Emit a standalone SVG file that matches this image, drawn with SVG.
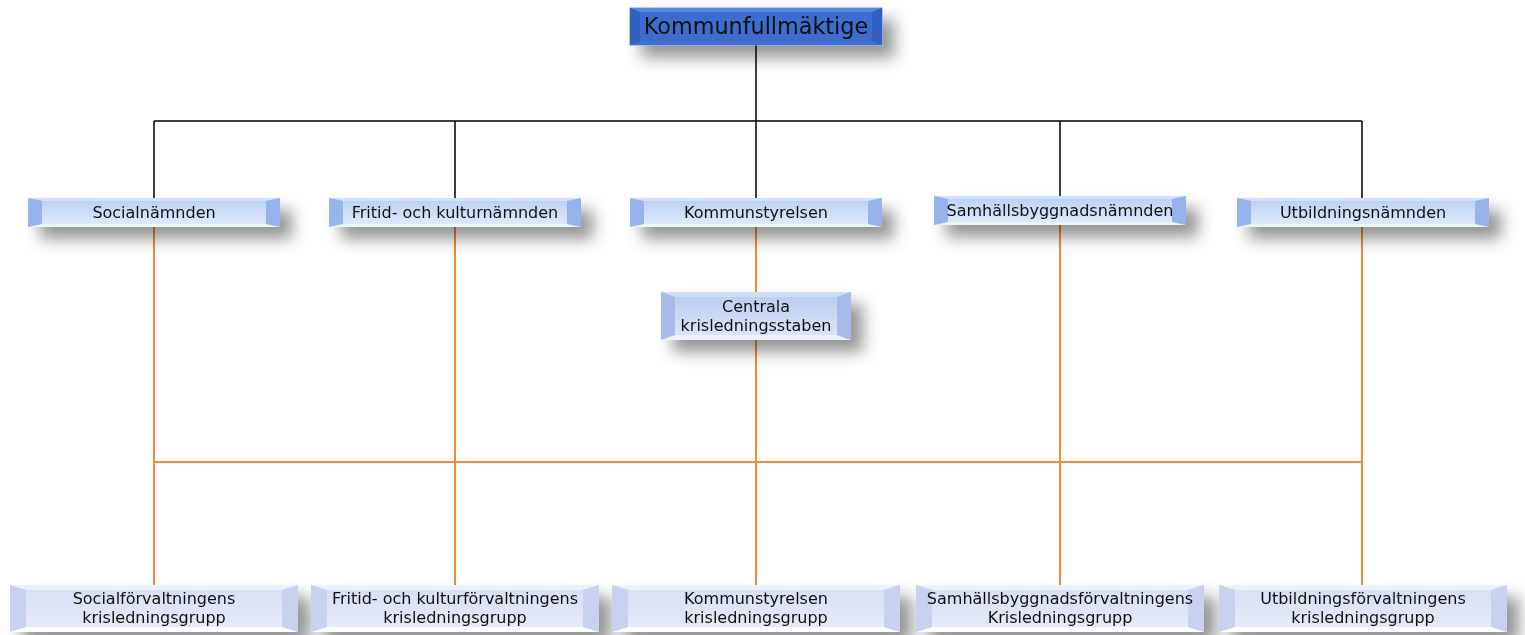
<svg xmlns="http://www.w3.org/2000/svg" width="1525" height="635" viewBox="0 0 1525 635">
<defs>
<filter id="sh" x="-20%" y="-60%" width="150%" height="300%">
<feDropShadow dx="12" dy="12" stdDeviation="8" flood-color="#000" flood-opacity="0.42"/>
</filter>
<linearGradient id="gMid" x1="0" y1="0" x2="0" y2="1">
<stop offset="0" stop-color="#b9cff6"/><stop offset="1" stop-color="#e2ecfa"/>
</linearGradient>
<linearGradient id="gCen" x1="0" y1="0" x2="0" y2="1">
<stop offset="0" stop-color="#b9cbf0"/><stop offset="1" stop-color="#dfe7f8"/>
</linearGradient>
<linearGradient id="gBot" x1="0" y1="0" x2="0" y2="1">
<stop offset="0" stop-color="#d8dff4"/><stop offset="1" stop-color="#e6ebf8"/>
</linearGradient>
<linearGradient id="gTop" x1="0" y1="0" x2="0" y2="1">
<stop offset="0" stop-color="#3a6dd2"/><stop offset="1" stop-color="#3d6ccb"/>
</linearGradient>
<g id="boxMid">
<rect x="0" y="0" width="252" height="29" fill="url(#gMid)"/>
<polygon points="0,0 252,0 238,3 14,3" fill="#d3e2fb"/>
<polygon points="0,29 252,29 238,26 14,26" fill="#e8f6f6"/>
<polygon points="0,0 14,3 14,26 0,29" fill="#97b3ec"/>
<polygon points="252,0 238,3 238,26 252,29" fill="#97b3ec"/>
</g>
<g id="boxBot">
<rect x="0" y="0" width="288" height="47" fill="url(#gBot)"/>
<polygon points="0,0 288,0 272,5 16,5" fill="#eef1fa"/>
<polygon points="0,47 288,47 272,42 16,42" fill="#ffffff"/>
<polygon points="0,0 16,5 16,42 0,47" fill="#c8d2ef"/>
<polygon points="288,0 272,5 272,42 288,47" fill="#c8d2ef"/>
</g>
</defs>
<style>
.t{font-family:"DejaVu Sans","Liberation Sans",sans-serif;fill:#111;text-anchor:middle}
.m{font-size:16px}
.b{font-size:16px}
.blk{stroke:#000;stroke-width:1.5;fill:none}
.org{stroke:#f08a3c;stroke-width:2;fill:none}
</style>
<g id="connectors">
<path class="blk" d="M756,45 V121 M154,121 H1362 M154,121 V198 M455,121 V198 M756,121 V198 M1060,121 V196 M1362,121 V198"/>
<path class="org" d="M154,227 V585 M455,227 V585 M756,227 V292 M756,340 V585 M1060,225 V585 M1362,227 V585 M154,462 H1362"/>
</g>
<g id="kf" filter="url(#sh)">
<rect x="630" y="8" width="252" height="37" fill="url(#gTop)" stroke="#6f9be6" stroke-width="1"/>
<polygon points="630,8 882,8 872,12 640,12" fill="#5a88e0"/>
<polygon points="630,45 882,45 872,41 640,41" fill="#4070cc"/>
<polygon points="630,8 640,12 640,41 630,45" fill="#3360c0"/>
<polygon points="882,8 872,12 872,41 882,45" fill="#3360c0"/>
<text class="t" x="756" y="34" font-size="22.3">Kommunfullmäktige</text>
</g>
<g id="socialnamnden" filter="url(#sh)"><use href="#boxMid" x="28" y="198"/><text class="t m" x="154" y="218">Socialnämnden</text></g>
<g id="fritidnamnden" filter="url(#sh)"><use href="#boxMid" x="329" y="198"/><text class="t m" x="455" y="218">Fritid- och kulturnämnden</text></g>
<g id="kommunstyrelsen" filter="url(#sh)"><use href="#boxMid" x="630" y="198"/><text class="t m" x="756" y="218">Kommunstyrelsen</text></g>
<g id="samhallsnamnden" filter="url(#sh)"><use href="#boxMid" x="934" y="196"/><text class="t m" x="1060" y="216">Samhällsbyggnadsnämnden</text></g>
<g id="utbildningsnamnden" filter="url(#sh)"><use href="#boxMid" x="1237" y="198"/><text class="t m" x="1363" y="218">Utbildningsnämnden</text></g>
<g id="centrala" filter="url(#sh)">
<rect x="661" y="292" width="190" height="48" fill="url(#gCen)"/>
<polygon points="661,292 851,292 837,297 675,297" fill="#d2def7"/>
<polygon points="661,340 851,340 837,335 675,335" fill="#eef3fb"/>
<polygon points="661,292 675,297 675,335 661,340" fill="#a6bbe9"/>
<polygon points="851,292 837,297 837,335 851,340" fill="#a6bbe9"/>
<text class="t m" x="756" y="312">Centrala</text>
<text class="t m" x="756" y="331">krisledningsstaben</text>
</g>
<g id="socialkg" filter="url(#sh)"><use href="#boxBot" x="10" y="585"/><text class="t b" x="154" y="604">Socialförvaltningens</text><text class="t b" x="154" y="623">krisledningsgrupp</text></g>
<g id="fritidkg" filter="url(#sh)"><use href="#boxBot" x="311" y="585"/><text class="t b" x="455" y="604">Fritid- och kulturförvaltningens</text><text class="t b" x="455" y="623">krisledningsgrupp</text></g>
<g id="kskg" filter="url(#sh)"><use href="#boxBot" x="612" y="585"/><text class="t b" x="756" y="604">Kommunstyrelsen</text><text class="t b" x="756" y="623">krisledningsgrupp</text></g>
<g id="samhallskg" filter="url(#sh)"><use href="#boxBot" x="916" y="585"/><text class="t b" x="1060" y="604">Samhällsbyggnadsförvaltningens</text><text class="t b" x="1060" y="623">Krisledningsgrupp</text></g>
<g id="utbkg" filter="url(#sh)"><use href="#boxBot" x="1219" y="585"/><text class="t b" x="1363" y="604">Utbildningsförvaltningens</text><text class="t b" x="1363" y="623">krisledningsgrupp</text></g>
</svg>
